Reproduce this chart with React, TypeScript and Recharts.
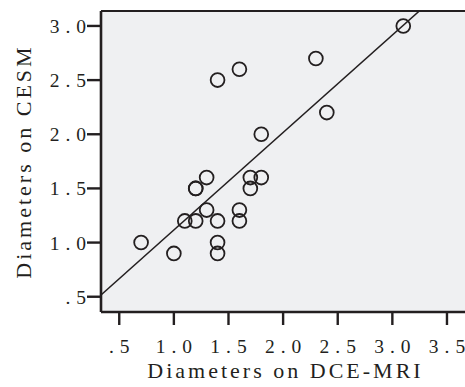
import type { ReactElement } from 'react';
import { ReferenceLine, Scatter, ScatterChart, XAxis, YAxis, CartesianGrid } from 'recharts';

const dceMri = [3.1, 2.3, 1.6, 1.4, 2.4, 1.8, 1.3, 1.2, 1.2, 1.7, 1.8, 1.7, 1.3, 1.1, 1.2, 1.4, 1.6, 1.6, 0.7, 1.0, 1.4, 1.4];
const cesm = [3.0, 2.7, 2.6, 2.5, 2.2, 2.0, 1.6, 1.5, 1.5, 1.6, 1.6, 1.5, 1.3, 1.2, 1.2, 1.2, 1.3, 1.2, 1.0, 0.9, 1.0, 0.9];

const xTicks = [0.5, 1.0, 1.5, 2.0, 2.5, 3.0, 3.5];
const xTickLabels = ['.5', '1.0', '1.5', '2.0', '2.5', '3.0', '3.5'];
const yTicks = [0.5, 1.0, 1.5, 2.0, 2.5, 3.0];
const yTickLabels = ['.5', '1.0', '1.5', '2.0', '2.5', '3.0'];

const xDomain = [0.333, 3.665];
const yDomain = [0.359, 3.138];

// fitted line
const fitSlope = 0.9;
const fitIntercept = 0.216;

const INK = '#231f20';
const FONT = '"Liberation Serif", "Times New Roman", serif';
const TICK_SIZE = 19.5;
const TICK_SPACING = 6;
const TITLE_SIZE = 22;
const TITLE_SPACING = 3;
const X_TICK_LEN = 13;
const Y_TICK_LEN = 14;

const points = dceMri.map((x, i) => ({ x, y: cesm[i] }));
const fitSegment = xDomain.map((x) => ({ x, y: fitSlope * x + fitIntercept }));

function XTick({ x, y, index }: { x: number; y: number; index: number }): ReactElement {
  return (
    <g>
      <line x1={x} x2={x} y1={y - X_TICK_LEN} y2={y} stroke={INK} strokeWidth={2.4} />
      <text
        x={x + TICK_SPACING / 2}
        y={y + 27.5}
        textAnchor="middle"
        fontFamily={FONT}
        fontSize={TICK_SIZE}
        letterSpacing={TICK_SPACING}
        fill={INK}
      >
        {xTickLabels[index]}
      </text>
    </g>
  );
}

function YTick({ x, y, index }: { x: number; y: number; index: number }): ReactElement {
  return (
    <g>
      <line x1={x} x2={x + Y_TICK_LEN} y1={y} y2={y} stroke={INK} strokeWidth={2.4} />
      <text
        x={x - 1 + TICK_SPACING}
        y={y + 7}
        textAnchor="end"
        fontFamily={FONT}
        fontSize={TICK_SIZE}
        letterSpacing={TICK_SPACING}
        fill={INK}
      >
        {yTickLabels[index]}
      </text>
    </g>
  );
}

function Ring(props: unknown): ReactElement {
  const { cx, cy } = props as { cx: number; cy: number };
  return <circle cx={cx} cy={cy} r={6.9} fill="none" stroke={INK} strokeWidth={1.8} />;
}

type Box = { x: number; y: number; width: number; height: number };

function XTitle(props: unknown): ReactElement {
  const vb = (props as { viewBox: Box }).viewBox;
  return (
    <text
      x={vb.x + vb.width / 2 + TITLE_SPACING / 2 + 1}
      y={vb.y + 66}
      textAnchor="middle"
      fontFamily={FONT}
      fontSize={TITLE_SIZE}
      letterSpacing={TITLE_SPACING}
      fill={INK}
    >
      Diameters on DCE-MRI
    </text>
  );
}

function YTitle(props: unknown): ReactElement {
  const vb = (props as { viewBox: Box }).viewBox;
  const cx = vb.x + 31;
  const cy = vb.y + vb.height / 2;
  return (
    <text
      x={cx}
      y={cy}
      transform={`rotate(-90, ${cx}, ${cy})`}
      textAnchor="middle"
      fontFamily={FONT}
      fontSize={TITLE_SIZE}
      letterSpacing={TITLE_SPACING}
      fill={INK}
    >
      Diameters on CESM
    </text>
  );
}

export default function App(): ReactElement {
  return (
    <div style={{ position: 'absolute', left: 0, top: 0, width: 465, height: 387, background: '#fff', overflow: 'hidden' }}>
      <ScatterChart width={465} height={387} margin={{ top: 11, right: 0, bottom: 0, left: 0 }}>
        <CartesianGrid fill="#eff0f2" horizontal={false} vertical={false} />
        <XAxis
          type="number"
          dataKey="x"
          domain={xDomain}
          allowDataOverflow
          ticks={xTicks}
          interval={0}
          height={75}
          tickSize={X_TICK_LEN}
          tickMargin={0}
          axisLine={false}
          tickLine={false}
          tick={XTick}
          label={{ content: XTitle }}
        />
        <YAxis
          type="number"
          dataKey="y"
          domain={yDomain}
          allowDataOverflow
          ticks={yTicks}
          interval={0}
          width={101}
          tickSize={Y_TICK_LEN}
          tickMargin={0}
          axisLine={false}
          tickLine={false}
          tick={YTick}
          label={{ content: YTitle }}
        />
        <ReferenceLine y={yDomain[1]} stroke={INK} strokeWidth={2} />
        <ReferenceLine y={yDomain[0]} stroke={INK} strokeWidth={2.6} />
        <ReferenceLine x={xDomain[0]} stroke={INK} strokeWidth={2.6} />
        <ReferenceLine
          segment={fitSegment}
          ifOverflow="hidden"
          stroke={INK}
          strokeWidth={1.5}
        />
        <Scatter data={points} shape={Ring} isAnimationActive={false} />
      </ScatterChart>
    </div>
  );
}
